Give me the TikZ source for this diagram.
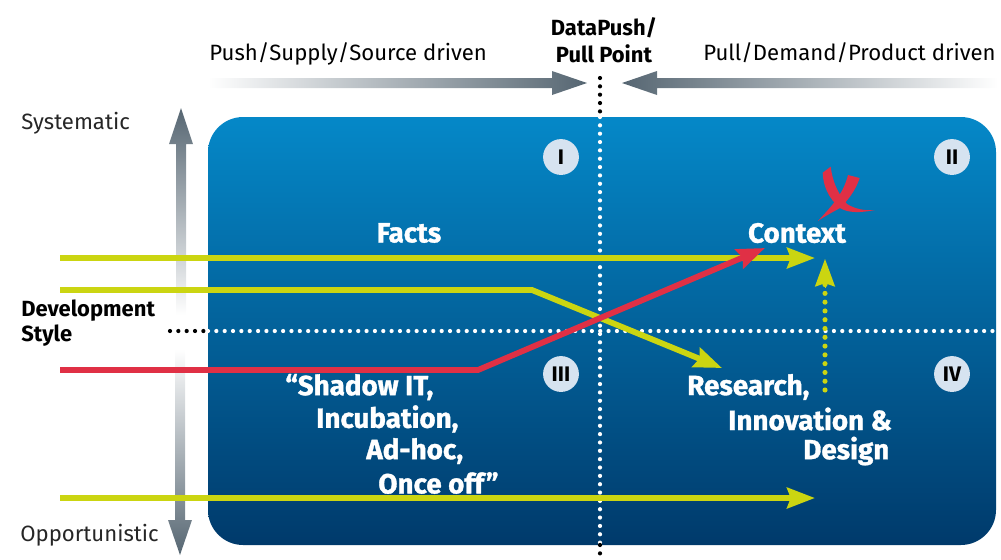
\documentclass[tikz,border=0pt]{standalone}
\usepackage{fontspec}
\setmainfont{Fira Sans}
\newfontfamily\heavyfont[FakeBold=1.2]{Fira Sans Bold}
\usetikzlibrary{arrows.meta,calc}

\definecolor{limeline}{HTML}{CBD511}
\definecolor{redline}{HTML}{E03045}
\definecolor{steeldark}{HTML}{566672}
\definecolor{blueup}{HTML}{0588C8}
\definecolor{bluedown}{HTML}{003A6B}
\definecolor{badgefill}{HTML}{D6E3F0}

\begin{document}
\begin{tikzpicture}[x=0.02cm,y=-0.02cm]
	\tikzset{every node/.style={inner sep=0pt, font=\fontsize{12.6}{15}\selectfont}}
	\tikzset{axislabel/.style={anchor=west, text=black!85}}
	\tikzset{headlabel/.style={font=\fontsize{12.5}{15}\selectfont\bfseries}}
	\tikzset{areatext/.style={anchor=west, text=white, font=\fontsize{15.8}{17}\selectfont\heavyfont}}
	\tikzset{badge/.style={circle, minimum size=20.4pt, fill=badgefill, font=\fontsize{12}{14}\selectfont\bfseries}}
	\tikzset{flowline/.style={line width=3.3pt, -{Stealth[length=15.8pt,width=11.6pt,inset=2pt]}}}
	\tikzset{dotline/.style={line width=2.4pt, line cap=round, dash pattern=on 0pt off 4.75pt}}

	\useasboundingbox (0,0) rectangle (1001,559);

	% field
	\shade [rounded corners=20pt, top color=blueup, bottom color=bluedown] (208,117) rectangle (996,545);

	% axis arrows
	\shade [left color=white, right color=steeldark] (208,78) -- (552,78) -- (552,71) -- (587,83) -- (552,95) -- (552,88) -- (208,88) -- cycle;
	\shade [right color=white, left color=steeldark] (998,78) -- (657,78) -- (657,71) -- (622,83) -- (657,95) -- (657,88) -- (998,88) -- cycle;
	\shade [bottom color=white, top color=steeldark] (176,315) -- (176,144) -- (169,144) -- (181,108) -- (193,144) -- (186,144) -- (186,315) -- cycle;
	\shade [top color=white, bottom color=steeldark] (175,349) -- (175,520) -- (168,520) -- (180,555) -- (192,520) -- (185,520) -- (185,349) -- cycle;

	% dotted cross
	\coordinate (pointTop)    at (600,78);
	\coordinate (pointIn)     at (600,117);
	\coordinate (pointOut)    at (600,545);
	\coordinate (pointBottom) at (600,555);
	\coordinate (styleLeft)   at (170,331);
	\coordinate (styleIn)     at (208,331);
	\coordinate (styleRight)  at (998,331);
	\draw [dotline, black] (pointTop) -- (pointIn);
	\draw [dotline, white] (pointIn) -- (pointOut);
	\draw [dotline, black] (pointOut) -- (pointBottom);
	\draw [dotline, black] (styleLeft) -- (styleIn);
	\draw [dotline, white] (styleIn) -- (styleRight);

	% flows
	\coordinate (factsStart)   at (60,258);
	\coordinate (factsEnd)     at (815,258);
	\coordinate (researchStart) at (60,290);
	\coordinate (researchBend) at (532,290);
	\coordinate (researchEnd)  at (722,368);
	\coordinate (onceStart)    at (60,498);
	\coordinate (onceEnd)      at (815,498);
	\coordinate (shadowStart)  at (60,370);
	\coordinate (shadowBend)   at (478,370);
	\coordinate (shadowEnd)    at (765,248);
	\coordinate (designStart)  at (825,390);
	\coordinate (designEnd)    at (825,259);

	\draw [flowline, limeline] (factsStart) -- (factsEnd);
	\draw [flowline, limeline] (researchStart) -- (researchBend) -- (researchEnd);
	\draw [flowline, limeline] (onceStart) -- (onceEnd);
	\draw [limeline, line width=2.9pt, line cap=round, dash pattern=on 0pt off 5pt] (designStart) -- ($(designEnd)+(0,15)$);
	\draw [flowline, limeline, line width=0pt] ($(designEnd)+(0,28)$) -- (designEnd);
	\draw [flowline, redline] (shadowStart) -- (shadowBend) -- (shadowEnd);

	% cross mark
	\fill [redline] (830.7,166.7) .. controls (833,185) and (840,196) .. (847,204) .. controls (855,209) and (865,211) .. (875,210) .. controls (860,213) and (848,213) .. (840,208) .. controls (828,198) and (823,185) .. (822.7,172.7) -- cycle;
	\fill [redline] (848,175) -- (859.7,178) .. controls (855,192) and (847,201) .. (840,208) .. controls (833,212) and (825,216) .. (818,221) .. controls (826,212) and (833,205) .. (838,197) .. controls (843,190) and (846,183) .. (848,175) -- cycle;

	% badges
	\node [badge] (badgeOne)   at (561,157) {I};
	\node [badge] (badgeTwo)   at (952,157) {II};
	\node [badge] (badgeThree) at (561,374) {III};
	\node [badge] (badgeFour)  at (952,374) {IV};

	% labels
	\node [anchor=west] (pushLabel) at (209,53.5) {Push/Supply/Source driven};
	\node [anchor=east] (pullLabel) at (996,52.5) {Pull/Demand/Product driven};
	\node [headlabel] (pointOne) at (604,28) {DataPush/};
	\node [headlabel] (pointTwo) at (604,54) {Pull Point};
	\node [axislabel] (systematic) at (21,123.5) {Systematic};
	\node [axislabel] (opportunistic) at (20,535) {Opportunistic};
	\node [headlabel, anchor=west] (styleOne) at (21,310.5) {Development};
	\node [headlabel, anchor=west] (styleTwo) at (21,335.5) {Style};

	\node [areatext, anchor=center] (facts) at (409,233) {Facts};
	\node [areatext, anchor=center] (context) at (797,233) {Context};
	\node [areatext] (shadowOne)   at (285,387) {“Shadow IT,};
	\node [areatext] (shadowTwo)   at (316,419) {Incubation,};
	\node [areatext] (shadowThree) at (366,451) {Ad-hoc,};
	\node [areatext] (shadowFour)  at (378,483) {Once off”};
	\node [areatext] (researchOne)   at (687,387) {Research,};
	\node [areatext] (researchTwo)   at (728,419) {Innovation \&};
	\node [areatext] (researchThree) at (803,451) {Design};
\end{tikzpicture}
\end{document}
